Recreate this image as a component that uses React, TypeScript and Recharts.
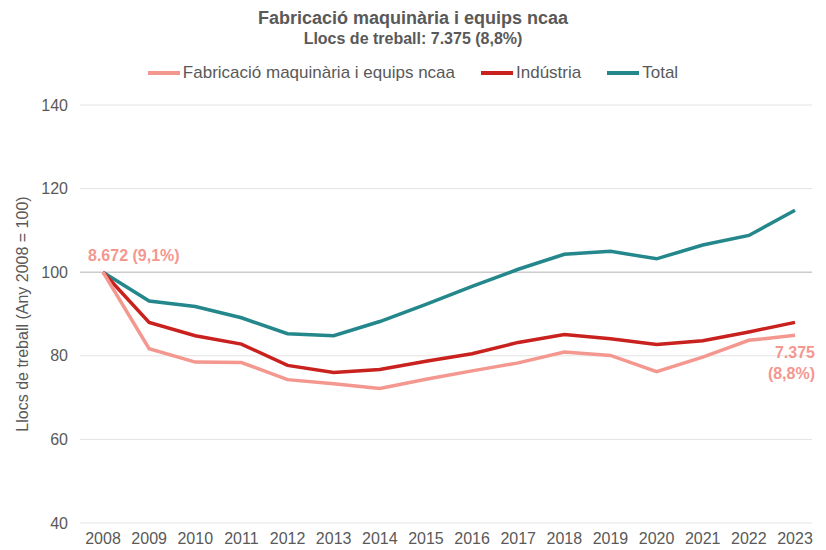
import React from 'react';
import { LineChart, Line, XAxis, YAxis, CartesianGrid, ReferenceLine, LabelList } from 'recharts';

const years = ['2008','2009','2010','2011','2012','2013','2014','2015','2016','2017','2018','2019','2020','2021','2022','2023'];
const fabricacio = [100, 81.7, 78.5, 78.4, 74.3, 73.3, 72.2, 74.4, 76.4, 78.3, 80.9, 80.1, 76.2, 79.7, 83.7, 84.9];
const industria = [100, 88.0, 84.8, 82.8, 77.7, 76.0, 76.7, 78.7, 80.5, 83.2, 85.1, 84.1, 82.7, 83.6, 85.7, 88.0];
const total = [100, 93.1, 91.8, 89.1, 85.3, 84.8, 88.2, 92.3, 96.6, 100.7, 104.3, 105.0, 103.2, 106.5, 108.8, 114.8];
const yTicks = [40, 60, 80, 100, 120, 140];

const seriesNames = ['Fabricació maquinària i equips ncaa', 'Indústria', 'Total'];
const seriesColors = ['#F4978F', '#C9211E', '#23878B'];

const titleLine1 = 'Fabricació maquinària i equips ncaa';
const titleLine2 = 'Llocs de treball: 7.375 (8,8%)';
const yAxisTitle = 'Llocs de treball (Any 2008 = 100)';
const firstLabel = '8.672 (9,1%)';
const lastLabelLines = ['7.375', '(8,8%)'];

const data = years.map((y, i) => ({ year: y, fab: fabricacio[i], ind: industria[i], tot: total[i] }));

const FONT = '"Liberation Sans", Arial, sans-serif';
const TEXT = '#595959';

const PinkLabel = (props: any) => {
  const { x, y, index } = props;
  if (index === 0) {
    return (
      <text x={x - 15} y={y - 11} textAnchor="start" fill={seriesColors[0]} fontSize={16} fontWeight="bold" fontFamily={FONT}>
        {firstLabel}
      </text>
    );
  }
  if (index === years.length - 1) {
    return (
      <text textAnchor="end" fill={seriesColors[0]} fontSize={16} fontWeight="bold" fontFamily={FONT}>
        <tspan x={x + 20} y={y + 23}>{lastLabelLines[0]}</tspan>
        <tspan x={x + 20} y={y + 44}>{lastLabelLines[1]}</tspan>
      </text>
    );
  }
  return null;
};

export default function App() {
  return (
    <div style={{ position: 'absolute', left: 0, top: 0, width: 826, height: 550, background: '#fff', fontFamily: FONT }}>
      <div style={{ position: 'absolute', left: 0, top: 7, width: 826, textAlign: 'center', color: TEXT, fontWeight: 'bold', fontSize: 18, lineHeight: '22px' }}>
        <div>{titleLine1}</div>
        <div style={{ fontSize: 16, lineHeight: '20px' }}>{titleLine2}</div>
      </div>
      <div style={{ position: 'absolute', left: 0, top: 62, width: 826, display: 'flex', justifyContent: 'center', color: TEXT, fontSize: 17, lineHeight: '22px' }}>
        {seriesNames.map((n, i) => (
          <div key={n} style={{ display: 'flex', alignItems: 'center', marginRight: i < seriesNames.length - 1 ? 26 : 0 }}>
            <span style={{ display: 'inline-block', width: 32, height: 4, background: seriesColors[i], marginRight: 3 }} />
            <span>{n}</span>
          </div>
        ))}
      </div>
      <div style={{ position: 'absolute', left: 0, top: 0 }}>
        <LineChart width={826} height={550} data={data} margin={{ top: 105, right: 14, bottom: 2, left: 0 }}>
          <CartesianGrid vertical={false} stroke="#E3E3E3" strokeWidth={1} />
          <ReferenceLine y={100} stroke="#BDBDBD" strokeWidth={1} />
          <XAxis dataKey="year" axisLine={false} tickLine={false} tickMargin={4} height={25} padding={{ left: 23, right: 17 }}
            tick={{ fill: TEXT, fontSize: 16, fontFamily: FONT }} interval={0} />
          <YAxis domain={[40, 140]} ticks={yTicks} axisLine={false} tickLine={false} tickMargin={6} width={80}
            tick={{ fill: TEXT, fontSize: 16, fontFamily: FONT }}
            label={{ value: yAxisTitle, angle: -90, position: 'center', dx: -18, fill: TEXT, fontSize: 16, fontFamily: FONT }} />
          <Line dataKey="tot" stroke={seriesColors[2]} strokeWidth={3.5} dot={false} isAnimationActive={false} />
          <Line dataKey="ind" stroke={seriesColors[1]} strokeWidth={3.5} dot={false} isAnimationActive={false} />
          <Line dataKey="fab" stroke={seriesColors[0]} strokeWidth={3.5} dot={false} isAnimationActive={false}>
            <LabelList dataKey="fab" content={PinkLabel} />
          </Line>
        </LineChart>
      </div>
    </div>
  );
}
